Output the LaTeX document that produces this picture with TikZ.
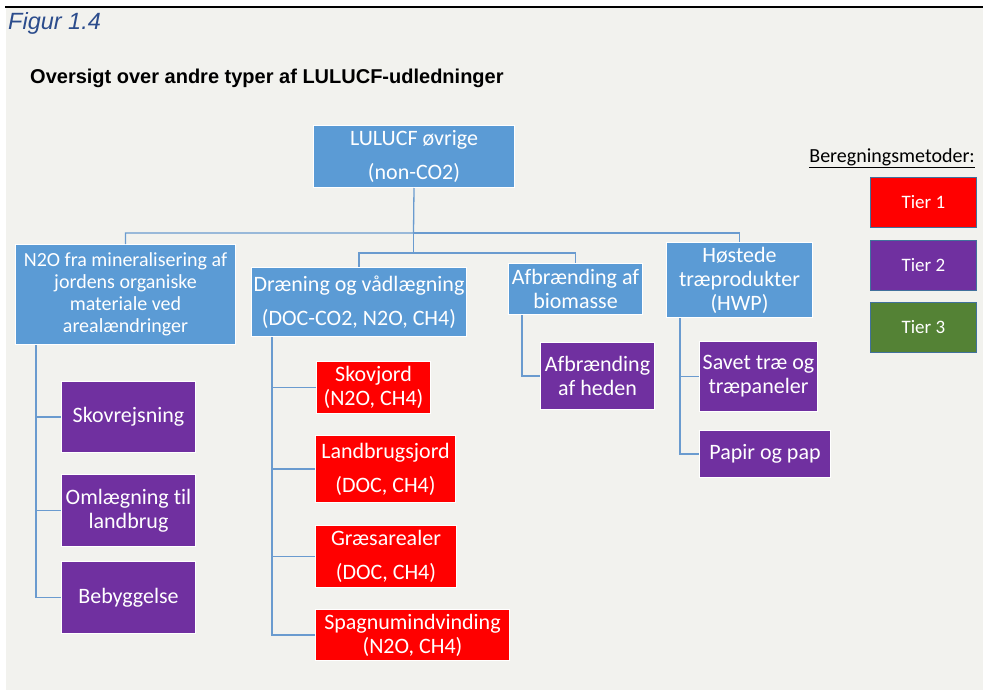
\documentclass[tikz,border=0pt]{standalone}
\usepackage{fontspec}
\setmainfont[Ligatures=NoCommon]{Carlito}
\newfontfamily\arialfont{Liberation Sans}
\definecolor{bgc}{HTML}{F2F2EE}
\definecolor{boxblue}{HTML}{5B9BD5}
\definecolor{boxred}{HTML}{FF0000}
\definecolor{boxpurple}{HTML}{7030A0}
\definecolor{boxgreen}{HTML}{548235}
\definecolor{connc}{HTML}{6A9BCF}
\definecolor{figblue}{HTML}{2B4C8C}
\definecolor{legborder}{HTML}{41719C}
\tikzset{
  box/.style={draw=white, line width=1pt, anchor=north west, inner sep=0pt,
    align=center, text=white},
  tight/.style={font=\fontsize{20}{22}\selectfont},
  wide/.style={font=\fontsize{22}{34}\selectfont},
  mid/.style={font=\fontsize{22}{24}\selectfont},
  single/.style={font=\fontsize{22}{24}\selectfont},
  legbox/.style={draw=legborder, line width=0.8pt, anchor=north west, inner sep=0pt,
    minimum width=106pt, minimum height=50pt, text=white, font=\fontsize{19}{22}\selectfont},
  conn/.style={draw=connc, line width=1.3pt}
}
\begin{document}
\begin{tikzpicture}[x=1pt,y=-1pt]
\useasboundingbox (0,0) rectangle (983,693);
\fill[bgc] (6,8) rectangle (983,690);
\draw[black, line width=1.3pt] (5,7) -- (983,7);

\node[anchor=base west, inner sep=0pt, text=figblue, font=\arialfont\itshape\fontsize{23.5}{26}\selectfont] (fig) at (8,30) {Figur 1.4};
\node[anchor=base west, inner sep=0pt, font=\arialfont\bfseries\fontsize{20}{24}\selectfont] (title) at (30,84) {Oversigt over andre typer af LULUCF-udledninger};

% root
\node[box, wide, fill=boxblue, minimum width=201pt, minimum height=62pt] (root) at (313,125) {LULUCF øvrige\\(non-CO2)};

% level 1
\node[box, tight, fill=boxblue, minimum width=220pt, minimum height=100pt] (n2o) at (15,244) {N2O fra mineralisering af\\jordens organiske\\materiale ved\\arealændringer};
\node[box, wide, fill=boxblue, minimum width=215pt, minimum height=69pt] (dren) at (251,267) {Dræning og vådlægning\\(DOC-CO2, N2O, CH4)};
\node[box, mid, fill=boxblue, minimum width=134pt, minimum height=51pt] (afb) at (508,263) {Afbrænding af\\biomasse};
\node[box, mid, fill=boxblue, minimum width=146pt, minimum height=75pt] (hwp) at (666,242) {Høstede\\træprodukter\\(HWP)};

% left children
\node[box, single, fill=boxpurple, minimum width=134pt, minimum height=71pt] (skovr) at (61,381) {Skovrejsning};
\node[box, mid, fill=boxpurple, minimum width=134pt, minimum height=72pt] (oml) at (61,474) {Omlægning til\\landbrug};
\node[box, single, fill=boxpurple, minimum width=134pt, minimum height=72pt] (beb) at (61,561) {Bebyggelse};

% draening children
\node[box, mid, fill=boxred, minimum width=114pt, minimum height=52pt] (skovj) at (316,361) {Skovjord\\(N2O, CH4)};
\node[box, wide, fill=boxred, minimum width=140pt, minimum height=67pt] (landb) at (315,435) {Landbrugsjord\\(DOC, CH4)};
\node[box, wide, fill=boxred, minimum width=141pt, minimum height=62pt] (graes) at (315,525) {Græsarealer\\(DOC, CH4)};
\node[box, mid, fill=boxred, minimum width=194pt, minimum height=51pt] (spag) at (315,609) {Spagnumindvinding\\(N2O, CH4)};

% afbraending child
\node[box, mid, fill=boxpurple, minimum width=114pt, minimum height=67pt] (hed) at (540,342) {Afbrænding\\af heden};

% hwp children
\node[box, mid, fill=boxpurple, minimum width=118pt, minimum height=70pt] (sav) at (699,341) {Savet træ og\\træpaneler};
\node[box, single, fill=boxpurple, minimum width=131pt, minimum height=47pt] (pap) at (699,430) {Papir og pap};

% legend
\node[anchor=base east, inner sep=0pt, font=\fontsize{20}{22}\selectfont] (legt) at (975,162) {\underline{Beregningsmetoder:}};
\node[legbox, fill=boxred] (t1) at (870,177) {Tier 1};
\node[legbox, fill=boxpurple] (t2) at (870,240) {Tier 2};
\node[legbox, fill=boxgreen] (t3) at (870,302) {Tier 3};

% connectors
\coordinate (ja) at (413.5,233);
\coordinate (jb) at (413.5,253);
\draw[conn] (root.south) -- (ja) -| (n2o.north);
\draw[conn] (ja) -| (hwp.north);
\draw[conn] (ja) -- (jb) -| (dren.north);
\draw[conn] (jb) -| (afb.north);

\draw[conn] ([xshift=21pt]n2o.south west) |- (skovr.west);
\draw[conn] ([xshift=21pt]n2o.south west) |- (oml.west);
\draw[conn] ([xshift=21pt]n2o.south west) |- (beb.west);

\draw[conn] ([xshift=21pt]dren.south west) |- (skovj.west);
\draw[conn] ([xshift=21pt]dren.south west) |- (landb.west);
\draw[conn] ([xshift=21pt]dren.south west) |- (graes.west);
\draw[conn] ([xshift=21pt]dren.south west) |- (spag.west);

\draw[conn] ([xshift=14pt]afb.south west) |- (hed.west);

\draw[conn] ([xshift=14pt]hwp.south west) |- (sav.west);
\draw[conn] ([xshift=14pt]hwp.south west) |- (pap.west);
\end{tikzpicture}
\end{document}
